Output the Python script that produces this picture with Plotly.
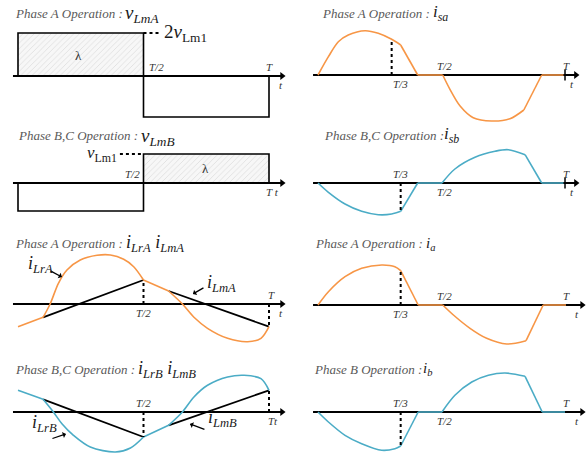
import plotly.graph_objects as go

W, H = 587, 454
ORANGE = '#F79646'
BLUE = '#4BACC6'
SERIF = 'Liberation Serif, DejaVu Serif, Noto Serif, serif'

# time is in units of the period T, values are in arbitrary (drawing) units
t_half = [0.0, 0.5, 1.0]
vLmA_level = [43, -41]
vLmB_level = [-28, 29]

# resonant currents (left column)
iLrA_t = [0, 0.10, 0.128, 0.161, 0.195, 0.248, 0.315, 0.368, 0.421, 0.461, 0.5,
          0.6, 0.655, 0.701, 0.755, 0.835, 0.915, 0.968, 1.0]
iLrA_v = [-22.7, -13.3, 0, 20.7, 34, 44, 48.7, 49, 44.7, 37.3, 24,
          13, 0, -13.3, -24.3, -34.3, -37.7, -34.3, -22.7]
iLrA_corner = [0, 1, 10, 11, 18]
iLmA_t = [[0.10, 0.5], [0.6, 1.0]]
iLmA_v = [[-13.3, 24], [13, -22.7]]

iLrB_t = [0, 0.10, 0.141, 0.175, 0.221, 0.288, 0.388, 0.448, 0.5,
          0.6, 0.655, 0.701, 0.755, 0.835, 0.901, 0.968, 1.0]
iLrB_v = [21.7, 12.7, 0, -11.7, -23.3, -35, -40, -36, -25,
          -13.3, 0, 15, 26.7, 35, 36.7, 33.3, 21.7]
iLrB_corner = [0, 1, 8, 9, 16]
iLmB_t = [[0.10, 0.5], [0.6, 1.0]]
iLmB_v = [[12.7, -25], [-13.3, 21.7]]

# phase / line currents (right column)
isa_t = [0, 0.042, 0.082, 0.122, 0.19, 0.243, 0.297, 1/3, 0.402, 0.503,
         0.532, 0.573, 0.626, 0.70, 0.774, 0.83, 0.902, 0.99]
isa_v = [0, 18.3, 33.3, 40, 44.3, 41.7, 35.7, 30, 0, 0,
         -14.3, -31, -42.7, -46, -43.7, -35, 0, 0]
isa_corner = [0, 7, 8, 9, 15, 16, 17]

isb_t = [0, 0.042, 0.109, 0.176, 0.243, 0.297, 1/3, 0.402, 0.50,
         0.552, 0.633, 0.714, 0.767, 0.835, 0.902, 0.99]
isb_v = [0, -9.3, -21, -28.3, -31.7, -31, -28.3, 0, 0,
         14, 25.7, 31.7, 33.3, 28.3, 0, 0]
isb_corner = [0, 6, 7, 8, 13, 14, 15]

ia_t = [0, 0.042, 0.109, 0.176, 0.257, 0.31, 1/3, 0.404, 0.503,
        0.546, 0.613, 0.68, 0.761, 0.839, 0.908, 1.0]
ia_v = [0, 13.3, 28.3, 36.7, 40, 38.3, 34.3, 0, 0,
        -10, -23.3, -33.3, -39, -35.7, 0, 0]
ia_corner = [0, 6, 7, 8, 13, 14, 15]

ib_t = [0, 0.042, 0.109, 0.176, 0.257, 0.31, 1/3, 0.404, 0.50,
        0.552, 0.62, 0.687, 0.754, 0.835, 0.904, 0.996]
ib_v = [0, -10, -23.3, -31.7, -38.3, -36.7, -34, 0, 0,
        16.7, 30, 36.7, 39, 35.7, 0, 0]
ib_corner = [0, 6, 7, 8, 13, 14, 15]

titles = ['Phase A Operation :', 'Phase B,C Operation :', 'Phase A Operation :',
          'Phase B,C Operation :', 'Phase A Operation :', 'Phase B,C Operation :',
          'Phase A Operation :', 'Phase B Operation :']
variables = ['v<sub>LmA</sub>', 'v<sub>LmB</sub>', 'i<sub>LrA</sub> i<sub>LmA</sub>',
             'i<sub>LrB</sub> i<sub>LmB</sub>', 'i<sub>sa</sub>', 'i<sub>sb</sub>',
             'i<sub>a</sub>', 'i<sub>b</sub>']

# ---- layout of the 8 small panels (pixel boxes) ----
cols = [dict(left=0, right=292, t0=18, t1=269),
        dict(left=293, right=587, t0=318, t1=566)]
panels = {
    1: dict(col=0, top=0, bottom=125, zero=76, ax_end=1.052),
    2: dict(col=0, top=112, bottom=232, zero=183, ax_end=1.052),
    3: dict(col=0, top=225, bottom=352, zero=304, ax_end=1.052),
    4: dict(col=0, top=340, bottom=454, zero=412, ax_end=1.052),
    5: dict(col=1, top=0, bottom=125, zero=75, ax_end=1.04),
    6: dict(col=1, top=112, bottom=232, zero=183, ax_end=1.04),
    7: dict(col=1, top=225, bottom=352, zero=305, ax_end=1.065),
    8: dict(col=1, top=340, bottom=454, zero=412, ax_end=1.065),
}
title_pos = {1: (13, 13), 2: (16, 135), 3: (13, 244), 4: (13, 369),
             5: (320, 13), 6: (322, 135), 7: (313, 244), 8: (312, 369)}
var_pos = {1: (123, 14, 19), 2: (139, 137, 19), 3: (124, 244, 18), 4: (136, 369, 18),
           5: (431, 13, 17), 6: (442, 135, 17), 7: (424, 244, 15), 8: (421, 369, 15)}

fig = go.Figure()
annotations = []


def refs(k):
    return ('x', 'y') if k == 1 else (f'x{k}', f'y{k}')


for k, p in panels.items():
    c = cols[p['col']]
    s = c['t1'] - c['t0']
    xn = 'xaxis' if k == 1 else f'xaxis{k}'
    yn = 'yaxis' if k == 1 else f'yaxis{k}'
    xr, yr = refs(k)
    fig.layout[xn] = dict(domain=[c['left'] / W, c['right'] / W],
                          range=[(c['left'] - c['t0']) / s, (c['right'] - c['t0']) / s],
                          visible=False, anchor=yr, fixedrange=True)
    fig.layout[yn] = dict(domain=[1 - p['bottom'] / H, 1 - p['top'] / H],
                          range=[p['zero'] - p['bottom'], p['zero'] - p['top']],
                          visible=False, anchor=xr, fixedrange=True)


def line(k, x, y, color='black', width=1.6, dash='solid', shape='linear'):
    xr, yr = refs(k)
    fig.add_trace(go.Scatter(x=x, y=y, mode='lines', xaxis=xr, yaxis=yr,
                             line=dict(color=color, width=width, dash=dash, shape=shape,
                                       smoothing=0.9),
                             showlegend=False, hoverinfo='skip'))


def t_axis(k):
    xr, yr = refs(k)
    end = panels[k]['ax_end']
    line(k, [-0.02, end], [0, 0], width=1.8)
    fig.add_trace(go.Scatter(x=[end], y=[0], mode='markers', xaxis=xr, yaxis=yr,
                             marker=dict(symbol='triangle-right', size=7, color='black'),
                             showlegend=False, hoverinfo='skip'))


def curve(k, t, v, corners, color):
    for a, b in zip(corners[:-1], corners[1:]):
        line(k, t[a:b + 1], v[a:b + 1], color=color, width=1.6, shape='spline')


def square(k, levels, hatched):
    xr, yr = refs(k)
    i = hatched
    fig.add_trace(go.Scatter(
        x=[t_half[i], t_half[i], t_half[i + 1], t_half[i + 1]],
        y=[0, levels[i], levels[i], 0], mode='lines', fill='toself',
        fillcolor='#f7f7f7', line=dict(width=0),
        fillpattern=dict(shape='/', fgcolor='#c4c4c4', bgcolor='#f7f7f7', size=4, solidity=0.2),
        xaxis=xr, yaxis=yr, showlegend=False, hoverinfo='skip'))
    t_axis(k)
    line(k, [t_half[0], t_half[0], t_half[1], t_half[1], t_half[2], t_half[2]],
         [0, levels[0], levels[0], levels[1], levels[1], 0], width=1.6)


def text(k, x, y, s, size=11, xanchor='center', yanchor='middle', xshift=0, yshift=0,
         color='#333333', italic=True):
    xr, yr = refs(k)
    annotations.append(dict(x=x, y=y, xref=xr, yref=yr, text=f'<i>{s}</i>' if italic else s,
                            showarrow=False, xanchor=xanchor, yanchor=yanchor,
                            xshift=xshift, yshift=yshift,
                            font=dict(family=SERIF, size=size, color=color)))


def pointer(k, x, y, ax, ay):
    xr, yr = refs(k)
    annotations.append(dict(x=x, y=y, xref=xr, yref=yr, ax=ax, ay=ay, text='',
                            showarrow=True, arrowhead=1, arrowsize=0.8, arrowwidth=1.3,
                            arrowcolor='black'))


# ---- panel 1: v_LmA ----
square(1, vLmA_level, 0)
line(1, [0.5, 0.566], [vLmA_level[0]] * 2, dash='dot', width=2)
text(1, 0.566, vLmA_level[0], '2<i>v</i><sub>Lm1</sub>', size=19, xanchor='left',
     xshift=2, color='#1a1a1a', italic=False)
text(1, 0.24, 21, 'λ', size=13, italic=False)
text(1, 0.5, 0, 'T/2', xanchor='left', yanchor='bottom', xshift=3, yshift=1)
text(1, 1.0, 0, 'T', yanchor='bottom', yshift=1)
text(1, 1.03, 0, 't', xanchor='left', yanchor='top', yshift=-1)

# ---- panel 2: v_LmB ----
square(2, vLmB_level, 1)
line(2, [0.406, 0.5], [vLmB_level[1]] * 2, dash='dot', width=2)
text(2, 0.406, vLmB_level[1], '<i>v</i><sub>Lm1</sub>', size=17, xanchor='right',
     xshift=-1, color='#1a1a1a', italic=False)
text(2, 0.745, 15, 'λ', size=13, italic=False)
text(2, 0.5, 0, 'T/2', xanchor='right', yanchor='bottom', xshift=-2, yshift=1)
text(2, 1.0, 0, 'T t', xanchor='center', yanchor='top', xshift=3, yshift=-1)

# ---- panel 3: i_LrA, i_LmA ----
t_axis(3)
for tt, vv in zip(iLmA_t, iLmA_v):
    line(3, tt, vv, width=1.8)
curve(3, iLrA_t, iLrA_v, iLrA_corner, ORANGE)
line(3, [0.5, 0.5], [0, iLmA_v[0][1]], dash='dot', width=2)
line(3, [1.0, 1.0], [0, iLmA_v[1][1]], dash='dot', width=2)
text(3, 0.5, 0, 'T/2', yanchor='top', yshift=-1)
text(3, 1.01, 0, 'T', yanchor='bottom', yshift=1)
text(3, 1.03, 0, 't', xanchor='left', yanchor='top', yshift=-1)
pointer(3, 0.175, 27, -13, -7)
pointer(3, 0.697, 10, 12, -7)

# ---- panel 4: i_LrB, i_LmB ----
t_axis(4)
for tt, vv in zip(iLmB_t, iLmB_v):
    line(4, tt, vv, width=1.8)
curve(4, iLrB_t, iLrB_v, iLrB_corner, BLUE)
line(4, [0.5, 0.5], [0, iLmB_v[0][1]], dash='dot', width=2)
line(4, [1.0, 1.0], [0, iLmB_v[1][1]], dash='dot', width=2)
text(4, 0.5, 0, 'T/2', yanchor='bottom', yshift=1)
text(4, 1.0, 0, 'Tt', yanchor='top', xshift=4, yshift=-1)
pointer(4, 0.191, -22, -15, 5)
pointer(4, 0.685, -12, 16, 6)

# ---- right column ----
right = [(5, isa_t, isa_v, isa_corner, ORANGE, True, 'below'),
         (6, isb_t, isb_v, isb_corner, BLUE, True, 'above'),
         (7, ia_t, ia_v, ia_corner, ORANGE, False, 'below'),
         (8, ib_t, ib_v, ib_corner, BLUE, False, 'above')]
for k, t, v, cn, col, tick, t3 in right:
    t_axis(k)
    curve(k, t, v, cn, col)
    line(k, [t[6], t[6]], [0, v[6]], dash='dot', width=2)
    if tick:
        xr, yr = refs(k)
        fig.add_trace(go.Scatter(x=[0.996], y=[0], mode='markers', xaxis=xr, yaxis=yr,
                                 marker=dict(symbol='line-ns', size=8,
                                             line=dict(color='black', width=1.5)),
                                 showlegend=False, hoverinfo='skip'))
    up, dn = ('bottom', 1), ('top', -1)
    a3 = dn if t3 == 'below' else up
    a2 = up if t3 == 'below' else dn
    text(k, 1 / 3, 0, 'T/3', yanchor=a3[0], yshift=a3[1])
    text(k, 0.5, 0, 'T/2', yanchor=a2[0], yshift=a2[1], xshift=2)
    text(k, 1.0, 0, 'T', yanchor='bottom', yshift=1)
    text(k, 1.01 if tick else 1.03, 0, 't', xanchor='left', yanchor='top', yshift=-1)

# pointer labels (paper pixels)
ptr_labels = [(26, 264, 'i<sub>LrA</sub>'), (221, 283, 'i<sub>LmA</sub>'),
              (30, 437, 'i<sub>LrB</sub>'), (222, 432, 'i<sub>LmB</sub>')]
for x, y, s in ptr_labels:
    annotations.append(dict(x=x / W, y=1 - y / H, xref='paper', yref='paper',
                            text=f'<i>{s}</i>', showarrow=False,
                            font=dict(family=SERIF, size=18, color='#1a1a1a')))

for k in panels:
    x, y = title_pos[k]
    annotations.append(dict(x=x / W, y=1 - y / H, xref='paper', yref='paper',
                            text=f'<i>{titles[k - 1]}</i>', showarrow=False,
                            xanchor='left', yanchor='middle',
                            font=dict(family=SERIF, size=13, color='#595959')))
    x, y, sz = var_pos[k]
    annotations.append(dict(x=x / W, y=1 - y / H, xref='paper', yref='paper',
                            text=f'<i>{variables[k - 1]}</i>', showarrow=False,
                            xanchor='left', yanchor='middle',
                            font=dict(family=SERIF, size=sz, color='#1a1a1a')))

fig.update_layout(width=W, height=H, margin=dict(l=0, r=0, t=0, b=0),
                  paper_bgcolor='white', plot_bgcolor='rgba(0,0,0,0)',
                  annotations=annotations, showlegend=False)

fig.write_html('out.html', config={'displayModeBar': False},
               post_script="document.body.style.margin='0';")
